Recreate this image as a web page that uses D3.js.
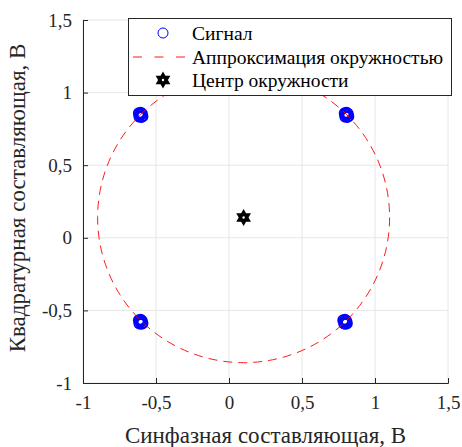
<!DOCTYPE html>
<html>
<head>
<meta charset="utf-8">
<script src="https://cdn.jsdelivr.net/npm/d3@7"></script>
</head>
<body style="margin:0">
<svg id="chart"></svg>
<script>
// données
var signalI = [-0.618, -0.592, -0.605, -0.614, -0.596, -0.607, -0.600, -0.611,
               0.792, 0.818, 0.805, 0.796, 0.814, 0.803, 0.809, 0.799,
               -0.618, -0.592, -0.605, -0.614, -0.596, -0.607, -0.600, -0.611,
               0.782, 0.808, 0.795, 0.788, 0.804, 0.797, 0.800, 0.791]
var signalQ = [0.858, 0.836, 0.862, 0.834, 0.855, 0.846, 0.832, 0.851,
               0.858, 0.836, 0.862, 0.834, 0.855, 0.846, 0.832, 0.851,
               -0.567, -0.589, -0.563, -0.591, -0.572, -0.580, -0.593, -0.570,
               -0.567, -0.589, -0.563, -0.591, -0.572, -0.580, -0.593, -0.570]
var centre = [0.1, 0.14]
var rayon = 1.0
var xTicks = [-1, -0.5, 0, 0.5, 1, 1.5]
var yTicks = [-1, -0.5, 0, 0.5, 1, 1.5]
var legende = ["Сигнал", "Аппроксимация окружностью", "Центр окружности"]

var W = 462, H = 447
var marge = {gauche: 83, droite: 14, haut: 20, bas: 64}
var police = "'Times New Roman'"

var canevas = d3.select("#chart").attr("width", W).attr("height", H)
  .attr("font-family", police)

var x = d3.scaleLinear().domain([-1, 1.5]).range([marge.gauche, W - marge.droite])
var y = d3.scaleLinear().domain([-1, 1.5]).range([H - marge.bas, marge.haut])

var virgule = function(d){ return String(d).replace(".", ",") }

// grille
canevas.append("g").selectAll("line").data(xTicks).enter().append("line")
  .attr("x1", function(d){ return x(d) }).attr("x2", function(d){ return x(d) })
  .attr("y1", y(-1)).attr("y2", y(1.5))
  .attr("style", "stroke:#e6e6e6;stroke-width:1")
canevas.append("g").selectAll("line").data(yTicks).enter().append("line")
  .attr("y1", function(d){ return y(d) }).attr("y2", function(d){ return y(d) })
  .attr("x1", x(-1)).attr("x2", x(1.5))
  .attr("style", "stroke:#e6e6e6;stroke-width:1")

// axes (ticks vers l'intérieur)
var axeX = canevas.append("g").attr("transform", "translate(0," + y(-1) + ")")
  .call(d3.axisBottom(x).tickValues(xTicks).tickSize(-5).tickPadding(13).tickFormat(virgule))
var axeY = canevas.append("g").attr("transform", "translate(" + x(-1) + ",0)")
  .call(d3.axisLeft(y).tickValues(yTicks).tickSize(-5).tickPadding(11).tickFormat(virgule))
;[axeX, axeY].forEach(function(a){
  a.attr("font-family", police).attr("font-size", 19)
  a.select(".domain").attr("stroke", "#262626").attr("stroke-width", 1)
  a.selectAll(".tick line").attr("stroke", "#262626")
  a.selectAll(".tick text").attr("fill", "#262626").attr("font-family", police)
})

// points du signal
canevas.append("g").selectAll("circle").data(signalI).enter().append("circle")
  .attr("cx", function(d){ return x(d) })
  .attr("cy", function(d, i){ return y(signalQ[i]) })
  .attr("r", 5)
  .attr("style", "fill:none;stroke:#0000ff;stroke-width:1.8")

// cercle d'approximation
canevas.append("ellipse")
  .attr("cx", x(centre[0])).attr("cy", y(centre[1]))
  .attr("rx", x(rayon) - x(0)).attr("ry", y(0) - y(rayon))
  .attr("style", "fill:none;stroke:#ff0000;stroke-width:0.9;stroke-dasharray:9,6")

// hexagramme
function hexagramme(r){
  var p = []
  for (var k = 0; k < 12; k++){
    var a = -Math.PI / 2 + k * Math.PI / 6
    var rr = (k % 2 == 0) ? r : r / Math.sqrt(3)
    p.push([rr * Math.cos(a), rr * Math.sin(a)])
  }
  return "M" + p.join("L") + "Z"
}
function etoile(g, cx, cy){
  g.append("path").attr("d", hexagramme(8.5))
    .attr("transform", "translate(" + cx + "," + cy + ")")
    .attr("fill", "#000")
  g.append("circle").attr("cx", cx).attr("cy", cy).attr("r", 1.2).attr("fill", "#fff")
}
etoile(canevas, x(centre[0]), y(centre[1]))

// légende
var leg = canevas.append("g")
leg.append("rect").attr("x", 128.5).attr("y", 18.5).attr("width", 323).attr("height", 77)
  .attr("style", "fill:#fff;stroke:#262626;stroke-width:1")
leg.append("circle").attr("cx", 163).attr("cy", 33).attr("r", 5)
  .attr("style", "fill:none;stroke:#0000ff;stroke-width:1")
leg.append("line").attr("x1", 133).attr("x2", 185).attr("y1", 57).attr("y2", 57)
  .attr("style", "stroke:#ff0000;stroke-width:0.9;stroke-dasharray:9,12.5")
etoile(leg, 163, 80)
leg.selectAll("text").data(legende).enter().append("text")
  .attr("x", 192)
  .attr("y", function(d, i){ return 40 + i * 23.5 })
  .attr("font-family", police)
  .attr("font-size", 19.5)
  .text(function(d){ return d })

// titres des axes
canevas.append("text")
  .attr("x", (x(-1) + x(1.5)) / 2).attr("y", 443)
  .attr("text-anchor", "middle")
  .attr("font-family", police)
  .attr("font-size", 23).attr("fill", "#262626")
  .text("Синфазная составляющая, В")
canevas.append("text")
  .attr("transform", "translate(25," + 198 + ") rotate(-90)")
  .attr("text-anchor", "middle")
  .attr("font-family", police)
  .attr("font-size", 23).attr("fill", "#262626")
  .text("Квадратурная составляющая, В")
</script>
</body>
</html>
